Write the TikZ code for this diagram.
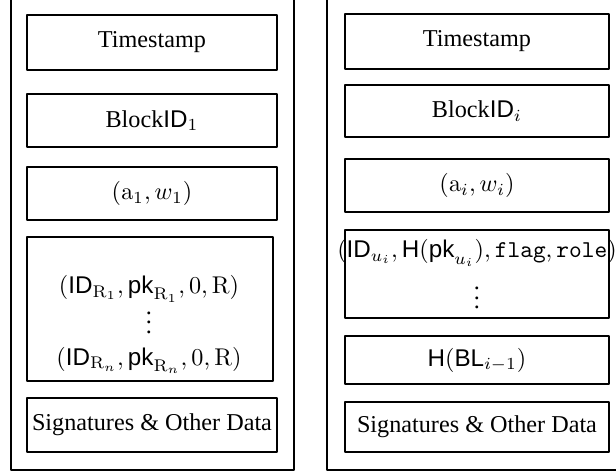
\documentclass[tikz,border=0pt]{standalone}
\usepackage{amsmath}
\usepackage{amssymb}
\usepackage[no-math]{fontspec}
\setmainfont{Liberation Serif}
\setsansfont{Liberation Sans}
\tikzset{
  every picture/.style={
    line join=round,
  },
  frame/.style={draw, line width=1.2pt},
  field/.style 2 args={draw, line width=1.2pt, inner sep=0pt, anchor=center,
    minimum width=#1*0.41322pt, minimum height=#2*0.41322pt},
  fieldtext/.style={align=center, inner sep=0pt},
}

\begin{document}
\begin{tikzpicture}[x=0.41322pt, y=-0.41322pt, scale=2.42,
  every node/.append style={transform shape}]
\useasboundingbox (0,0) rectangle (616,473);
\clip (0,0) rectangle (616,473);
% the two blocks, cut by the page edge
\draw[frame] (11,-10) rectangle (294,470);
\draw[frame] (327,-10) rectangle (640,470);
% first block
\node[field={250}{55}] (tsL) at (152,42.5) {Timestamp};
\node[field={250}{53}] (idL) at (152,120.5) {Block\textsf{ID}$_1$};
\node[field={250}{53}] (awL) at (152,193.5) {$(\mathrm{a}_1, w_1)$};
\node[field={246}{144}] (rolesL) at (150,309) {};
\node[fieldtext] (rolesLtext) at (149,324.5) {$(\textsf{ID}_{\mathrm{R}_1}, \textsf{pk}_{\mathrm{R}_1}, 0, \mathrm{R})$\\[-3pt]
  $\vdots$\\[1pt]
  $(\textsf{ID}_{\mathrm{R}_n}, \textsf{pk}_{\mathrm{R}_n}, 0, \mathrm{R})$};
\node[field={250}{54}] (sigL) at (152,425) {Signatures \& Other Data};
% i-th block
\node[field={264}{55}] (tsR) at (477,41.5) {Timestamp};
\node[field={264}{52}] (idR) at (477,111) {Block\textsf{ID}$_i$};
\node[field={264}{53}] (awR) at (477,185.5) {$(\mathrm{a}_i, w_i)$};
\node[field={264}{88}] (usersR) at (477,274) {};
\node[fieldtext] (usersRtext) at (477,274.5) {$(\textsf{ID}_{u_i}, \textsf{H}(\textsf{pk}_{u_i}), \texttt{flag}, \texttt{role})$\\[1.5pt]
  $\vdots$};
\node[field={264}{48}] (hashR) at (477,360) {$\textsf{H}(\textsf{BL}_{i-1})$};
\node[field={264}{50}] (sigR) at (477,427) {Signatures \& Other Data};
\end{tikzpicture}
\end{document}
